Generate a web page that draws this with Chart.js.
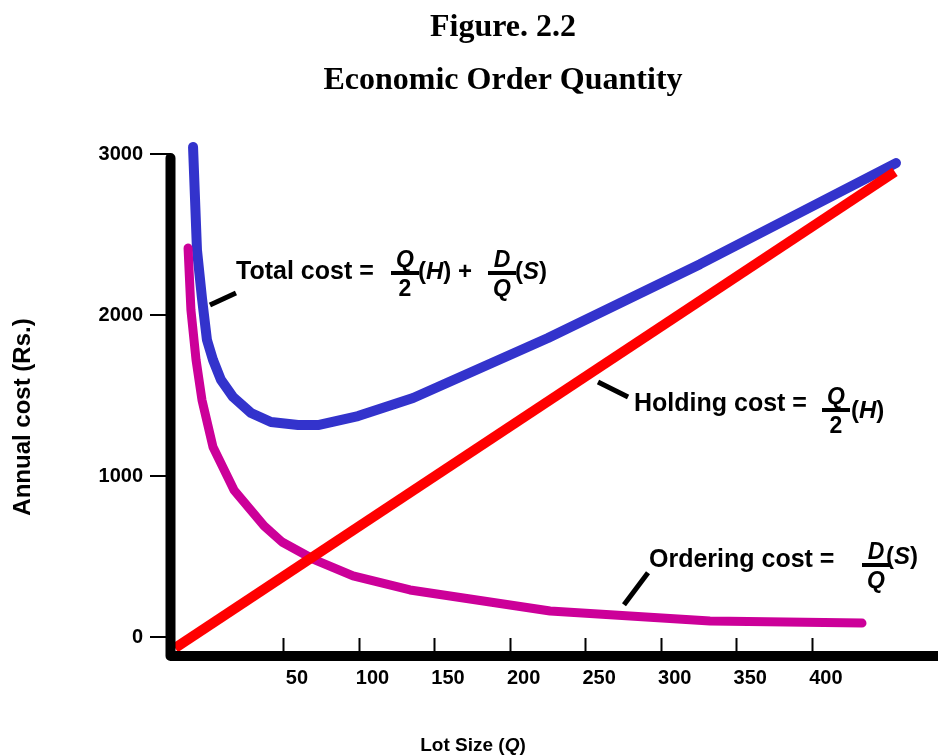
<!DOCTYPE html>
<html>
<head>
<meta charset="utf-8">
<title>Economic Order Quantity</title>
<script src="https://cdn.jsdelivr.net/npm/chart.js@4.4.1/dist/chart.umd.min.js"></script>
<style>
  html, body { margin: 0; padding: 0; background: #fff; }
</style>
</head>
<body>
<canvas id="eoq" width="938" height="755"></canvas>
<script>
// axis ticks
const xTicks = [50, 100, 150, 200, 250, 300, 350, 400];
const yTicks = [0, 1000, 2000, 3000];

// lot size (Q) and annual cost (Rs.)
const totalQ    = [-9.5, -6.9, -3.6, -0.3, 3.7, 9.0, 16.9, 28.9, 42.1, 60.0, 73.2, 99.7, 136.1, 225.4, 326.0, 455.7];
const totalCost = [3046, 2406, 2108, 1847, 1723, 1598, 1493, 1393, 1337, 1318, 1318, 1374, 1486, 1859, 2318, 2946];

const orderQ    = [-12.8, -10.9, -7.5, -3.6, 3.7, 17.6, 37.5, 49.4, 69.9, 96.4, 134.1, 226.8, 332.6, 433.2];
const orderCost = [2418, 2033, 1722, 1474, 1181, 914, 691, 591, 485, 380, 293, 162, 100, 87];

const holdQ    = [-21.4, 455.0];
const holdCost = [-68, 2891];

// pointer lines from the labels to the curves, in data units
const callouts = [
    [[1.7, 2064], [18.9, 2139]],
    [[258.5, 1585], [278.4, 1492]],
    [[275.7, 201], [291.6, 400]]
];

const SANS = '"Liberation Sans", Arial, sans-serif';
const B  = s => `bold ${s}px ${SANS}`;
const BI = s => `italic bold ${s}px ${SANS}`;

function pts(xs, ys) {
    return xs.map((x, i) => ({ x: x, y: ys[i] }));
}

// draw a row of text pieces with different fonts
function runs(ctx, parts, x, y, align) {
    let w = 0;
    parts.forEach(p => { ctx.font = p[1]; w += ctx.measureText(p[0]).width; });
    let cx = align === 'center' ? x - w / 2 : x;
    ctx.textAlign = 'left';
    parts.forEach(p => {
        ctx.font = p[1];
        ctx.fillText(p[0], cx, y);
        cx += ctx.measureText(p[0]).width;
    });
}

function frac(ctx, cx, barY, num, den, w) {
    ctx.fillRect(cx - w / 2, barY - 2, w, 4);
    ctx.textAlign = 'center';
    ctx.font = num[1];
    ctx.fillText(num[0], cx, barY - 6);
    ctx.font = den[1];
    ctx.fillText(den[0], cx, barY + 23);
}

const axesPlugin = {
    id: 'axes',
    afterDatasetsDraw(chart) {
        const ctx = chart.ctx;
        const a = chart.chartArea;
        const x = chart.scales.x;
        ctx.save();
        ctx.strokeStyle = '#000';
        // x tick marks stand up from the axis
        ctx.lineWidth = 2;
        xTicks.forEach(v => {
            const px = Math.round(x.getPixelForValue(v)) + 0.5;
            ctx.beginPath();
            ctx.moveTo(px, a.bottom - 4);
            ctx.lineTo(px, a.bottom - 18);
            ctx.stroke();
        });
        // thick L shaped axes
        ctx.lineWidth = 10;
        ctx.lineCap = 'round';
        ctx.lineJoin = 'round';
        ctx.beginPath();
        ctx.moveTo(a.left + 0.5, a.top + 5);
        ctx.lineTo(a.left + 0.5, a.bottom);
        ctx.lineTo(a.right + 10, a.bottom);
        ctx.stroke();
        ctx.restore();
    }
};

const textPlugin = {
    id: 'texts',
    afterDraw(chart) {
        const ctx = chart.ctx;
        const x = chart.scales.x, y = chart.scales.y;
        ctx.save();
        ctx.fillStyle = '#000';
        ctx.strokeStyle = '#000';
        ctx.textBaseline = 'alphabetic';

        // titles
        ctx.textAlign = 'center';
        ctx.font = 'bold 32px "Liberation Serif", "Times New Roman", serif';
        ctx.fillText('Figure. 2.2', 503, 36);
        ctx.fillText('Economic Order Quantity', 503, 89);

        // axis titles
        runs(ctx, [['Lot Size (', B(19)], ['Q', BI(19)], [')', B(19)]], 473, 751, 'center');
        ctx.save();
        ctx.translate(30, 417);
        ctx.rotate(-Math.PI / 2);
        ctx.textAlign = 'center';
        ctx.font = B(24);
        ctx.fillText('Annual cost (Rs.)', 0, 0);
        ctx.restore();

        // pointer lines
        ctx.lineWidth = 5;
        callouts.forEach(c => {
            ctx.beginPath();
            ctx.moveTo(x.getPixelForValue(c[0][0]), y.getPixelForValue(c[0][1]));
            ctx.lineTo(x.getPixelForValue(c[1][0]), y.getPixelForValue(c[1][1]));
            ctx.stroke();
        });

        // Total cost = Q/2 (H) + D/Q (S)
        ctx.textAlign = 'left';
        ctx.font = B(25);
        ctx.fillText('Total cost =', 236, 279);
        frac(ctx, 405, 273, ['Q', BI(23)], ['2', B(23)], 28);
        runs(ctx, [['(', B(24)], ['H', BI(24)], [')', B(24)]], 418, 279);
        ctx.font = B(24);
        ctx.fillText('+', 458, 279);
        frac(ctx, 502, 273, ['D', BI(23)], ['Q', BI(23)], 28);
        runs(ctx, [['(', B(24)], ['S', BI(24)], [')', B(24)]], 515, 279);

        // Holding cost = Q/2 (H)
        ctx.textAlign = 'left';
        ctx.font = B(25);
        ctx.fillText('Holding cost =', 634, 411);
        frac(ctx, 836, 410, ['Q', BI(23)], ['2', B(23)], 28);
        runs(ctx, [['(', B(24)], ['H', BI(24)], [')', B(24)]], 851, 418);

        // Ordering cost = D/Q (S)
        ctx.textAlign = 'left';
        ctx.font = B(25);
        ctx.fillText('Ordering cost =', 649, 567);
        frac(ctx, 876, 565, ['D', BI(23)], ['Q', BI(23)], 28);
        runs(ctx, [['(', B(24)], ['S', BI(24)], [')', B(24)]], 886, 564);

        ctx.restore();
    }
};

new Chart(document.getElementById('eoq'), {
    type: 'line',
    data: {
        datasets: [
            {
                label: 'Holding cost',
                data: pts(holdQ, holdCost),
                borderColor: '#ff0000',
                borderWidth: 10,
                borderCapStyle: 'butt'
            },
            {
                label: 'Ordering cost',
                data: pts(orderQ, orderCost),
                borderColor: '#cc0099',
                borderWidth: 9,
                borderCapStyle: 'round'
            },
            {
                label: 'Total cost',
                data: pts(totalQ, totalCost),
                borderColor: '#3333cc',
                borderWidth: 10,
                borderCapStyle: 'round'
            }
        ]
    },
    options: {
        responsive: false,
        animation: false,
        devicePixelRatio: 1,
        layout: { padding: { top: 153, left: 0, right: 0, bottom: 0 } },
        elements: {
            point: { radius: 0 },
            line: { tension: 0, borderJoinStyle: 'round', fill: false }
        },
        datasets: { line: { clip: false } },
        plugins: {
            legend: { display: false },
            tooltip: { enabled: false },
            title: { display: false }
        },
        scales: {
            x: {
                type: 'linear',
                min: -24.75,
                max: 483.5,
                afterBuildTicks: s => { s.ticks = xTicks.map(v => ({ value: v })); },
                afterFit: s => { s.height = 99; },
                grid: { display: false, drawTicks: false },
                border: { display: false },
                ticks: {
                    color: '#000',
                    font: { family: SANS, size: 20, weight: 'bold' },
                    padding: 10,
                    labelOffset: 14,
                    maxRotation: 0,
                    autoSkip: false,
                    callback: v => String(v)
                }
            },
            y: {
                type: 'linear',
                min: -117.5,
                max: 3008.7,
                afterBuildTicks: s => { s.ticks = yTicks.map(v => ({ value: v })); },
                afterFit: s => { s.width = 170; },
                grid: {
                    drawOnChartArea: false,
                    drawTicks: true,
                    tickLength: 20,
                    color: '#000',
                    lineWidth: 2
                },
                border: { display: false },
                ticks: {
                    color: '#000',
                    font: { family: SANS, size: 20, weight: 'bold' },
                    padding: 7,
                    callback: v => String(v)
                }
            }
        }
    },
    plugins: [axesPlugin, textPlugin]
});
</script>
</body>
</html>
